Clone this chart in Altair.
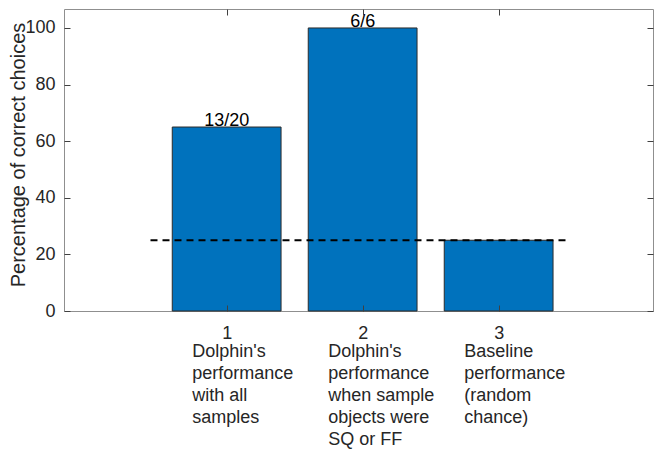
import json
import altair as alt
import pandas as pd

# ---- data ----
categories = [1, 2, 3]
percent_correct = [65, 100, 25]
bar_labels = ["13/20", "6/6", ""]
tick_numbers = ["1", "2", "3"]
descriptions = [
    ["Dolphin's", "performance", "with all", "samples"],
    ["Dolphin's", "performance", "when sample", "objects were", "SQ or FF"],
    ["Baseline", "performance", "(random", "chance)"],
]
chance_level = [25]
chance_start = [0.44]
chance_end = [3.51]
y_ticks = [0, 20, 40, 60, 80, 100]

bars_df = pd.DataFrame({"cat": categories, "pct": percent_correct, "label": bar_labels})
chance_df = pd.DataFrame({"xs": chance_start, "xe": chance_end, "lvl": chance_level})

FONT = "Liberation Sans"
TXT = "#262626"
BLUE = "#0072BD"
TICK = "#404040"

xscale = alt.Scale(domain=[-0.196, 4.135], nice=False, zero=False)
yscale = alt.Scale(domain=[0, 106.7], nice=False, zero=False)


def choose(lists):
    expr = "''"
    for c, v in reversed(list(zip(categories, lists))):
        expr = f"datum.value == {c} ? {json.dumps(v)} : {expr}"
    return expr


bars = (
    alt.Chart(bars_df)
    .transform_calculate(x0="datum.cat - 0.4", x1="datum.cat + 0.4")
    .mark_bar(color=BLUE, stroke="#2b2b2b", strokeWidth=1)
    .encode(
        x=alt.X(
            "x0:Q",
            scale=xscale,
            axis=alt.Axis(
                orient="bottom", values=categories, labelExpr=choose(tick_numbers),
                ticks=False, tickSize=0, domain=False, grid=False,
                labelPadding=13, labelOverlap=False, title=None,
            ),
        ),
        x2="x1:Q",
        y=alt.Y(
            "pct:Q",
            scale=yscale,
            axis=alt.Axis(
                orient="left", values=y_ticks, ticks=False, tickSize=0,
                domain=False, grid=False, labelPadding=9,
                title="Percentage of correct choices",
                titleX=-55.5, titleY=145.5, titleBaseline="top",
            ),
        ),
        y2=alt.datum(0),
    )
)

chance = (
    alt.Chart(chance_df)
    .mark_rule(color="black", strokeWidth=2, strokeDash=[7, 5])
    .encode(
        x=alt.X(
            "xs:Q",
            scale=xscale,
            axis=alt.Axis(
                orient="bottom", values=categories, labelExpr=choose(descriptions),
                labelAlign="left", labelBaseline="top", labelOffset=-35,
                labelLineHeight=22, labelPadding=31, ticks=False, tickSize=0,
                domain=False, grid=False, labelOverlap=False, title=None,
            ),
        ),
        x2="xe:Q",
        y=alt.Y(
            "lvl:Q",
            scale=yscale,
            axis=alt.Axis(
                orient="left", values=y_ticks, labels=False, tickSize=6, offset=-6,
                domain=False, grid=False, title=None, zindex=1,
            ),
        ),
    )
)

texts = (
    alt.Chart(bars_df)
    .mark_text(font=FONT, fontSize=18, color="black", baseline="alphabetic", dy=-1)
    .encode(
        x=alt.X(
            "cat:Q",
            scale=xscale,
            axis=alt.Axis(
                orient="bottom", values=categories, labels=False, tickSize=6,
                offset=-6, domain=False, grid=False, title=None, zindex=1,
            ),
        ),
        y=alt.Y(
            "pct:Q",
            scale=yscale,
            axis=alt.Axis(
                orient="right", values=y_ticks, labels=False, tickSize=6,
                offset=-6, domain=False, grid=False, title=None, zindex=1,
            ),
        ),
        text="label:N",
    )
)

top = (
    alt.Chart(bars_df)
    .mark_point(opacity=0)
    .encode(
        x=alt.X(
            "cat:Q",
            scale=xscale,
            axis=alt.Axis(
                orient="top", values=categories, labels=False, tickSize=6,
                offset=-6, domain=False, grid=False, title=None, zindex=1,
            ),
        ),
        y=alt.Y("pct:Q", scale=yscale, axis=None),
    )
)

chart = (
    alt.layer(bars, chance, texts, top)
    .resolve_axis(x="independent", y="independent")
    .properties(
        width=589,
        height=302,
        autosize=alt.AutoSizeParams(type="none"),
        padding={"left": 56, "top": 1, "right": 1, "bottom": 138},
    )
    .configure_view(stroke="#8f8f8f", strokeWidth=1)
    .configure_axis(
        labelFont=FONT, labelFontSize=18, labelColor=TXT,
        titleFont=FONT, titleFontSize=20, titleColor=TXT, titleFontWeight="normal",
        tickColor=TICK, tickWidth=1,
    )
)

chart.save("out.html", embed_options={"renderer": "svg", "actions": False})
